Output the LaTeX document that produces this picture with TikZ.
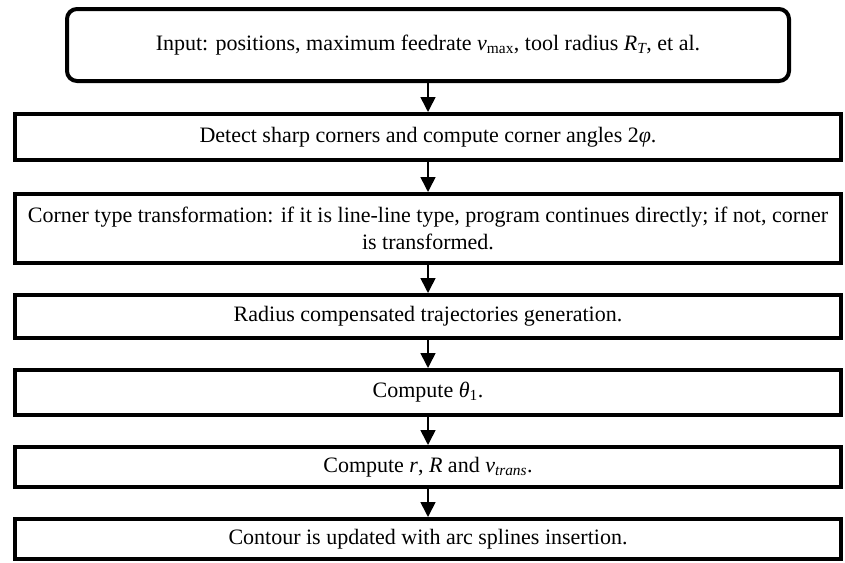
\documentclass[tikz,border=0pt]{standalone}
\usepackage{fontspec}
\setmainfont{Liberation Serif}
\usepackage{tikz}
\usetikzlibrary{shapes.misc, arrows.meta, positioning, calc}

\begin{document}
\begin{tikzpicture}[node distance=28pt, every node/.style={font=\fontsize{22}{27}\selectfont}]
%
% Flow: input -> corners -> corner type -> offset -> theta1 -> r, R, v -> update
%
\tikzstyle{inputbox} = [rectangle, rounded corners=10pt, minimum width=722pt, minimum height=72pt, text centered, draw=black, line width=4pt, align=center, inner sep=4pt]
\tikzstyle{process} = [rectangle, minimum width=826pt, text centered, draw=black, line width=4pt, align=center, inner sep=4pt]
\tikzstyle{arrow} = [line width=1.6pt, -{Triangle[width=15pt, length=15pt]}]
\useasboundingbox (0,0) rectangle (845pt,-562pt);
% Nodes
\node (start) [inputbox] at (428pt,-45pt) {Input: positions, maximum feedrate \textit{v}\textsubscript{max}, tool radius \textit{R\textsubscript{T}}, et al.};
\node (detect) [process, minimum height=46pt, below=29pt of start] {Detect sharp corners and compute corner angles 2\textit{φ}.};
\node (corner_type) [process, minimum height=69pt, below=30pt of detect] {Corner type transformation: if it is line-line type, program continues directly; if not, corner\\is transformed.};
\node (offset) [process, minimum height=43pt, below=of corner_type] {Radius compensated trajectories generation.};
\node (theta) [process, minimum height=45pt, below=of offset] {Compute \textit{θ}\textsubscript{1}.};
\node (radii) [process, minimum height=40pt, below=of theta] {Compute \textit{r}, \textit{R} and \textit{v\textsubscript{trans}}.};
\node (update) [process, minimum height=40pt, below=of radii] {Contour is updated with arc splines insertion.};
% Arrows
\draw [arrow] (start) -- (detect);
\draw [arrow] (detect) -- (corner_type);
\draw [arrow] (corner_type) -- (offset);
\draw [arrow] (offset) -- (theta);
\draw [arrow] (theta) -- (radii);
\draw [arrow] (radii) -- (update);
\end{tikzpicture}
\end{document}
